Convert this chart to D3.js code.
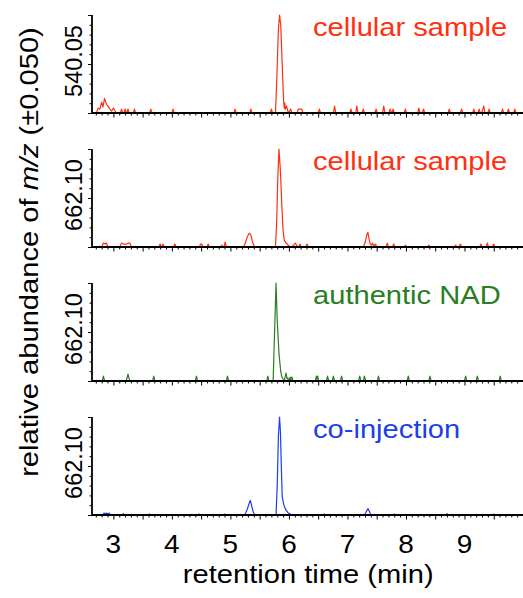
<!DOCTYPE html>
<html>
<head>
<meta charset="utf-8">
<script src="https://cdn.jsdelivr.net/npm/d3@7"></script>
<style>
  body { margin: 0; background: #fff; }
  svg text { font-family: "Liberation Sans", Arial, Helvetica, sans-serif; }
</style>
</head>
<body>
<div id="chart"></div>
<script>
const width = 523;
const height = 598;

const panelMz     = ["540.05", "662.10", "662.10", "662.10"];
const panelLabels = ["cellular sample", "cellular sample", "authentic NAD", "co-injection"];
const panelColors = ["#ff3010", "#ff3010", "#2a7d22", "#1b3fe8"];
const xTickLabels = [3, 4, 5, 6, 7, 8, 9];

// [retention time (min), relative abundance (%)]
const trace540cell = [
  [2.64,0],[2.71,0],[2.74,5],[2.77,4],[2.80,11],[2.82,6],[2.85,15],[2.88,9],[2.91,7],[2.94,4],[2.97,2],[3.00,5],[3.03,2],[3.05,0],
  [3.12,0],[3.14,4],[3.16,0],[3.18,0],[3.20,4],[3.22,0],[3.23,0],[3.25,4],[3.27,0],[3.34,0],[3.36,4],[3.38,0],
  [3.62,0],[3.64,4],[3.66,0],[4.00,0],[4.02,4],[4.04,0],
  [5.06,0],[5.08,4],[5.10,0],[5.33,0],[5.35,4],[5.37,0],[5.68,0],[5.70,4],[5.72,0],
  [5.77,0],[5.79,30],[5.82,85],[5.84,100],[5.86,90],[5.88,58],[5.90,26],[5.91,12],[5.92,5],[5.93,10],[5.94,4],[5.96,7],[5.98,2],[6.00,0],[6.03,4],[6.05,0],
  [6.14,0],[6.16,4],[6.19,4],[6.22,4],[6.24,0],
  [6.50,0],[6.52,4],[6.54,0],[6.76,0],[6.78,7],[6.80,0],[7.04,0],[7.06,4],[7.08,0],[7.14,0],[7.16,7],[7.18,0],[7.25,0],[7.27,4],[7.29,0],
  [7.47,0],[7.49,4],[7.51,0],[7.60,0],[7.62,7],[7.64,0],[7.71,0],[7.73,4],[7.75,0],[7.76,0],[7.78,4],[7.80,0],[7.97,0],[7.99,4],[8.01,0],
  [8.20,0],[8.22,5],[8.24,0],[8.28,0],[8.30,4],[8.32,0],[8.72,0],[8.74,4],[8.76,0],[8.93,0],[8.95,4],[8.97,0],[9.14,0],[9.16,4],[9.18,0],
  [9.23,0],[9.25,4],[9.27,0],[9.29,0],[9.31,3],[9.33,7],[9.35,0],[9.40,0],[9.42,4],[9.44,0],[9.63,0],[9.65,4],[9.67,0],[9.73,0],[9.75,4],[9.77,0],
  [9.84,0],[9.86,4],[9.88,0],[10.0,0]
];

const trace662cell = [
  [2.64,0],[2.80,0],[2.83,4],[2.86,3],[2.88,4],[2.91,0],
  [3.11,0],[3.14,4],[3.17,3],[3.20,3],[3.23,3],[3.26,4],[3.28,4],[3.31,0],
  [3.78,0],[3.80,3],[3.82,0],[3.83,0],[3.85,3],[3.87,0],[4.03,0],[4.05,3],[4.07,0],[4.47,0],[4.49,3],[4.51,3],[4.53,0],
  [4.60,0],[4.62,3],[4.64,0],[4.83,0],[4.85,2],[4.87,0],[4.89,0],[4.91,5],[4.93,0],
  [5.22,0],[5.25,3],[5.28,9],[5.31,13],[5.33,14],[5.35,12],[5.37,7],[5.39,3],[5.41,0],
  [5.77,0],[5.79,25],[5.81,70],[5.83,100],[5.85,82],[5.86,70],[5.88,41],[5.90,17],[5.92,7],[5.95,4],[5.97,3],[6.00,1],[6.05,0],
  [6.08,2],[6.11,4],[6.14,1],[6.17,0],[6.19,3],[6.21,0],[6.29,0],[6.31,3],[6.33,0],
  [7.27,0],[7.30,4],[7.33,12],[7.35,15],[7.37,8],[7.39,3],[7.41,2],[7.43,4],[7.45,1],[7.48,3],[7.50,0],
  [7.66,0],[7.68,4],[7.70,0],[7.77,0],[7.79,3],[7.81,0],[7.97,0],[7.99,2],[8.01,0],[8.37,0],[8.39,2],[8.41,0],
  [8.83,0],[8.85,2],[8.87,0],[8.91,0],[8.93,3],[8.95,0],[9.26,0],[9.28,3],[9.30,0],[9.37,0],[9.39,4],[9.41,0],
  [9.48,0],[9.50,3],[9.52,0],[10.0,0]
];

const trace662nad = [
  [2.64,0],[2.81,0],[2.83,5],[2.85,0],[3.22,0],[3.25,7],[3.28,0],[3.67,0],[3.69,5],[3.71,0],[4.40,0],[4.42,5],[4.44,0],
  [4.93,0],[4.95,5],[4.97,0],[5.62,0],[5.64,5],[5.66,0],
  [5.73,0],[5.75,40],[5.78,100],[5.80,62],[5.83,28],[5.86,10],[5.88,4],[5.90,2],[5.92,0],[5.95,8],[5.97,2],[5.98,3],[6.00,0],
  [6.02,4],[6.03,1],[6.05,4],[6.07,0],
  [6.45,0],[6.47,5],[6.48,2],[6.49,5],[6.51,0],[6.64,0],[6.66,5],[6.68,0],[6.74,0],[6.76,5],[6.78,0],[6.88,0],[6.90,5],[6.92,0],
  [7.19,0],[7.21,5],[7.23,0],[7.27,0],[7.29,5],[7.31,0],[7.51,0],[7.53,5],[7.55,0],[8.02,0],[8.04,5],[8.06,0],
  [8.39,0],[8.41,5],[8.43,0],[9.00,0],[9.02,5],[9.04,0],[9.20,0],[9.22,5],[9.24,0],[9.59,0],[9.61,5],[9.63,0],[10.0,0]
];

const trace662coinj = [
  [2.64,0],[2.82,0],[2.84,2],[2.86,1],[2.88,2],[2.90,1],[2.93,2],[2.95,0],[3.15,0],[3.17,1.5],[3.19,0],
  [3.60,0],[3.62,1],[3.64,0],[4.44,0],[4.46,1],[4.48,0],[4.88,0],[4.90,1],[4.92,0],
  [5.24,0],[5.26,2],[5.29,6],[5.31,10],[5.34,15],[5.37,8],[5.39,3],[5.42,0],
  [5.78,0],[5.80,30],[5.82,80],[5.84,100],[5.855,85],[5.87,50],[5.885,19],[5.91,11],[5.94,6],[5.99,2],[6.05,0],
  [6.58,0],[6.60,1],[6.62,0],[7.29,0],[7.31,2],[7.35,6.5],[7.38,3],[7.40,0],
  [7.78,0],[7.80,1],[7.82,0],[8.68,0],[8.70,1.5],[8.72,0],[9.48,0],[9.50,1],[9.52,0],[10.0,0]
];

const traces = [trace540cell, trace662cell, trace662nad, trace662coinj];

const margin = { top: 15, left: 92, right: 0 };
const panelH = 98;
const panelStep = 134;
const wide = 1.12; // the original lettering is a bit wider than Arial

const svg = d3.select("#chart").append("svg")
  .attr("width", width)
  .attr("height", height);

const x = d3.scaleLinear()
  .domain([2.635, 10])
  .range([margin.left, width - margin.right]);

const line = d3.line()
  .x(d => x(d[0]))
  .curve(d3.curveLinear);

traces.forEach((data, i) => {
  const top = margin.top + i * panelStep;
  const y = d3.scaleLinear().domain([0, 100]).range([top + panelH, top]);

  const g = svg.append("g").attr("class", "panel");

  // trace
  g.append("path")
    .datum(data)
    .attr("fill", "none")
    .attr("stroke", panelColors[i])
    .attr("stroke-width", 1.2)
    .attr("stroke-linejoin", "round")
    .attr("d", line.y(d => y(d[1])));

  // x axis: minor ticks every 0.1, longer every 0.5
  const xg = g.append("g").attr("transform", `translate(0,${top + panelH})`);
  xg.call(d3.axisBottom(x)
      .tickValues(d3.range(27, 101).map(v => v / 10))
      .tickSize(2.5)
      .tickFormat(""))
    .call(a => a.select(".domain").remove());
  xg.selectAll(".tick line")
    .attr("y2", d => Math.abs(d * 2 - Math.round(d * 2)) < 1e-6 ? 4.5 : 2.5)
    .attr("stroke-width", 1);
  xg.append("line")
    .attr("x1", x.range()[0]).attr("x2", x.range()[1])
    .attr("stroke", "#000").attr("stroke-width", 1.8);

  if (i === traces.length - 1) {
    xg.selectAll("text.xlab")
      .data(xTickLabels)
      .enter().append("text")
      .attr("class", "xlab")
      .attr("transform", d => `translate(${x(d)},38) scale(${wide},1)`)
      .attr("text-anchor", "middle")
      .attr("font-size", 25)
      .attr("fill", "#000")
      .text(d => d);
  }

  // y axis
  const yg = g.append("g").attr("transform", `translate(${margin.left},0)`);
  yg.call(d3.axisLeft(y)
      .tickValues(d3.range(0, 101, 10))
      .tickSize(2.5)
      .tickFormat(""))
    .call(a => a.select(".domain").remove());
  yg.selectAll(".tick line")
    .attr("x2", d => d % 50 === 0 ? -4 : -2.5);
  yg.append("line")
    .attr("y1", top).attr("y2", top + panelH)
    .attr("stroke", "#000").attr("stroke-width", 1.8);

  // m/z label
  svg.append("text")
    .attr("transform", `translate(82,${top + panelH / 2 - 3}) rotate(-90)`)
    .attr("text-anchor", "middle")
    .attr("font-size", 23.5)
    .text(panelMz[i]);

  // sample label
  svg.append("text")
    .attr("transform", `translate(313,${top + 21}) scale(${wide},1)`)
    .attr("font-size", 26)
    .attr("fill", panelColors[i])
    .text(panelLabels[i]);
});

svg.append("text")
  .attr("transform", `translate(${x(6.33)},583) scale(${wide},1)`)
  .attr("text-anchor", "middle")
  .attr("font-size", 26)
  .text("retention time (min)");

const yLabel = svg.append("text")
  .attr("transform", `translate(38,252) rotate(-90) scale(${wide},1)`)
  .attr("text-anchor", "middle")
  .attr("font-size", 26);
yLabel.append("tspan").text("relative abundance of ");
yLabel.append("tspan").attr("font-style", "italic").text("m/z");
yLabel.append("tspan").text(" (±0.050)");
</script>
</body>
</html>
